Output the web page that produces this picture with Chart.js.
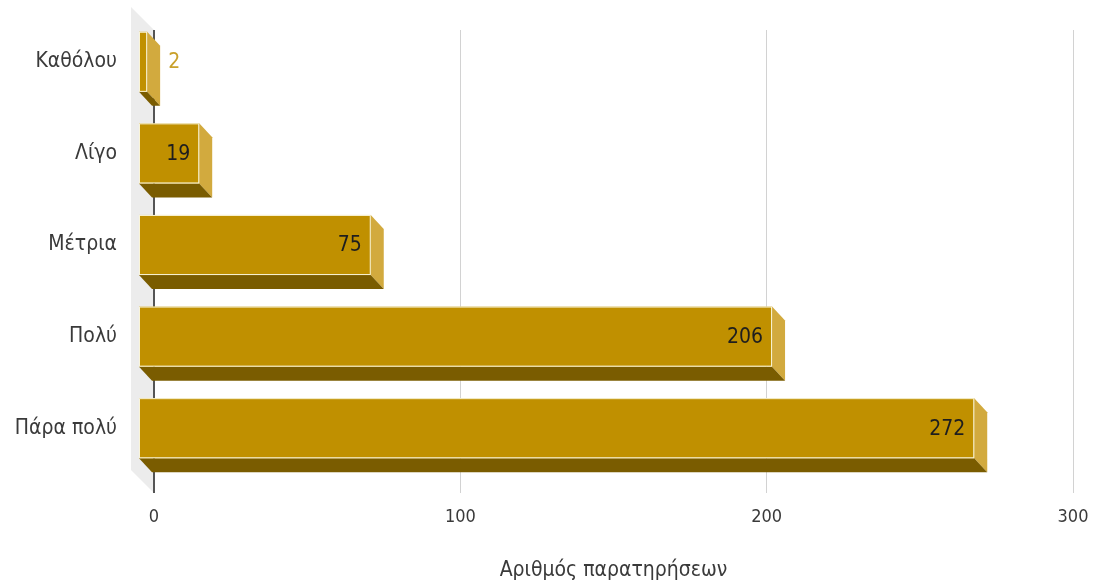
<!DOCTYPE html>
<html>
<head>
<meta charset="utf-8">
<script src="https://cdn.jsdelivr.net/npm/chart.js@4"></script>
<style>
  html, body { margin: 0; padding: 0; background: #fff; }
  #wrap { width: 1098px; height: 583px; }
</style>
</head>
<body>
<div id="wrap"><canvas id="chartEl" width="1098" height="583"></canvas></div>
<script>
const categories = ["Καθόλου", "Λίγο", "Μέτρια", "Πολύ", "Πάρα πολύ"];
const counts = [2, 19, 75, 206, 272];
const xTicks = [0, 100, 200, 300];
const xTitle = "Αριθμός παρατηρήσεων";

const FONT = "'DejaVu Sans Condensed', 'DejaVu Sans', sans-serif";
const DX = 13, DY = 14;          // bar depth
const WALL_DX = 23, WALL_DY = 23; // wall depth
const FRONT = "#c09000", SIDE = "#d2aa3e", BOTTOM = "#7a5c00";

const bars3d = {
  id: "bars3d",
  beforeDraw(chart) {
    const { ctx, chartArea: a } = chart;
    ctx.save();
    ctx.fillStyle = "#ececec";
    ctx.beginPath();
    ctx.moveTo(a.left - WALL_DX, a.top - WALL_DY);
    ctx.lineTo(a.left, a.top);
    ctx.lineTo(a.left, a.bottom + 5);
    ctx.lineTo(a.left - WALL_DX, a.bottom + 5 - WALL_DY);
    ctx.closePath();
    ctx.fill();
    ctx.restore();
  },
  afterDatasetsDraw(chart) {
    const { ctx } = chart;
    const meta = chart.getDatasetMeta(0);
    ctx.save();
    meta.data.forEach((bar, i) => {
      const h = bar.height;
      const top = bar.y - h / 2 - DY;
      const bot = bar.y + h / 2 - DY;
      const left = bar.base - 16;
      const right = bar.x - DX;

      // side face
      ctx.fillStyle = SIDE;
      ctx.beginPath();
      ctx.moveTo(right, top);
      ctx.lineTo(right + DX, top + DY);
      ctx.lineTo(right + DX, bot + DY);
      ctx.lineTo(right, bot);
      ctx.closePath();
      ctx.fill();

      // bottom face
      ctx.fillStyle = BOTTOM;
      ctx.beginPath();
      ctx.moveTo(left, bot);
      ctx.lineTo(right, bot);
      ctx.lineTo(right + DX, bot + DY);
      ctx.lineTo(left + DX, bot + DY);
      ctx.closePath();
      ctx.fill();

      // front face
      ctx.fillStyle = FRONT;
      ctx.fillRect(left, top, right - left, h);
      ctx.strokeStyle = "rgba(255,255,240,0.9)";
      ctx.lineWidth = 1;
      ctx.strokeRect(left + 0.5, top + 0.5, right - left - 1, h - 1);

      // value label
      ctx.font = "21px " + FONT;
      ctx.textBaseline = "middle";
      const txt = String(counts[i]);
      if (right - left > 45) {
        ctx.fillStyle = "#1e1e1e";
        ctx.textAlign = "right";
        ctx.fillText(txt, right - 9, top + h / 2 + 1);
      } else {
        ctx.fillStyle = "#c9a12c";
        ctx.textAlign = "left";
        ctx.fillText(txt, right + DX + 8, top + h / 2 + 1);
      }
    });
    ctx.restore();
  }
};

new Chart(chartEl, {
  type: "bar",
  data: {
    labels: categories,
    datasets: [{
      data: counts,
      backgroundColor: "rgba(0,0,0,0)",
      borderWidth: 0,
      barPercentage: 0.656,
      categoryPercentage: 1
    }]
  },
  options: {
    indexAxis: "y",
    responsive: false,
    animation: false,
    events: [],
    layout: { padding: { top: 30, right: 25, left: 0, bottom: 0 } },
    plugins: { legend: { display: false }, tooltip: { enabled: false } },
    scales: {
      x: {
        min: 0, max: 300,
        afterBuildTicks(scale) { scale.ticks = xTicks.map(v => ({ value: v })); },
        afterFit(scale) { scale.height = 95; scale.paddingLeft = 0; scale.paddingRight = 0; },
        border: { display: false },
        grid: {
          color: ctx => ctx.tick && ctx.tick.value === 0 ? "#555" : "#d2d2d2",
          lineWidth: ctx => ctx.tick && ctx.tick.value === 0 ? 2 : 1,
          drawTicks: true,
          tickLength: 5
        },
        ticks: { color: "#3a3a3a", font: { family: FONT, size: 18 }, padding: 14, maxRotation: 0 },
        title: {
          display: true, text: xTitle, color: "#3a3a3a",
          font: { family: FONT, size: 21 }, padding: { top: 12, bottom: 0 }
        }
      },
      y: {
        afterFit(scale) { scale.width = 154; scale.paddingTop = 0; scale.paddingBottom = 0; },
        border: { display: false },
        grid: { display: false, drawTicks: false },
        ticks: { color: "#3a3a3a", font: { family: FONT, size: 21 }, padding: 37, labelOffset: -14 }
      }
    }
  },
  plugins: [bars3d]
});
</script>
</body>
</html>
